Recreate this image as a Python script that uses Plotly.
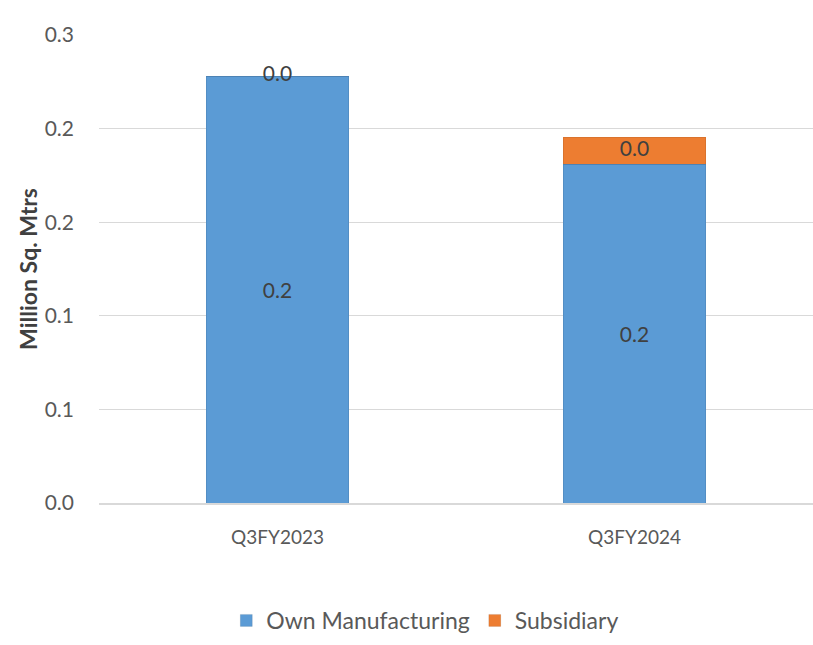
import plotly.graph_objects as go

# Production volume by quarter (million sq. metres)
categories = ["Q3FY2023", "Q3FY2024"]
own_manufacturing = [0.228, 0.181]
subsidiary = [0.0, 0.0145]
y_ticks = [0.0, 0.05, 0.10, 0.15, 0.20, 0.25]
y_tick_labels = ["0.0", "0.1", "0.1", "0.2", "0.2", "0.3"]

FONT = "Lato"
GREY = "#595959"

fig = go.Figure()

fig.add_trace(go.Bar(
    name="Own Manufacturing",
    x=categories,
    y=own_manufacturing,
    marker=dict(color="#5B9BD5", line=dict(color="rgba(0,0,0,0.08)", width=1)),
    text=[f"{v:.1f}" for v in own_manufacturing],
    textposition="inside",
    insidetextanchor="middle",
    textfont=dict(family=FONT, size=21, color="#404040"),
))

fig.add_trace(go.Bar(
    name="Subsidiary",
    x=categories,
    y=subsidiary,
    marker=dict(color="#ED7D31", line=dict(color="rgba(0,0,0,0.08)", width=1)),
    hoverinfo="x+y",
))

# value labels for the subsidiary segments, centred on each segment
fig.add_trace(go.Scatter(
    x=categories,
    y=[o + s / 2 for o, s in zip(own_manufacturing, subsidiary)],
    mode="text",
    text=[f"{v:.1f}" for v in subsidiary],
    textposition="middle center",
    textfont=dict(family=FONT, size=21, color="#404040"),
    showlegend=False,
    hoverinfo="skip",
))

fig.update_layout(
    barmode="stack",
    bargap=0.6,
    width=813,
    height=645,
    margin=dict(l=99, r=0, t=35, b=142),
    plot_bgcolor="white",
    paper_bgcolor="white",
    font=dict(family=FONT, size=19, color=GREY),
    legend=dict(
        orientation="h",
        x=0.457, xanchor="center",
        y=-0.205, yanchor="top",
        font=dict(family=FONT, size=23, color=GREY),
        itemwidth=30,
        traceorder="normal",
    ),
    xaxis=dict(
        showgrid=False,
        showline=True,
        linecolor="#d9d9d9",
        linewidth=2,
        tickfont=dict(family=FONT, size=19, color=GREY),
        ticks="",
        ticklabelstandoff=16,
    ),
    yaxis=dict(
        range=[0, 0.25],
        tickvals=y_ticks,
        ticktext=y_tick_labels,
        showgrid=True,
        gridcolor="#d9d9d9",
        gridwidth=1,
        zeroline=False,
        showline=False,
        ticks="",
        tickfont=dict(family=FONT, size=21, color=GREY),
        ticklabelstandoff=24,
        title=dict(
            text="<b>Million Sq. Mtrs</b>",
            font=dict(family=FONT, size=23, color="#404040"),
            standoff=0,
        ),
    ),
)

fig.write_html("out.html")
